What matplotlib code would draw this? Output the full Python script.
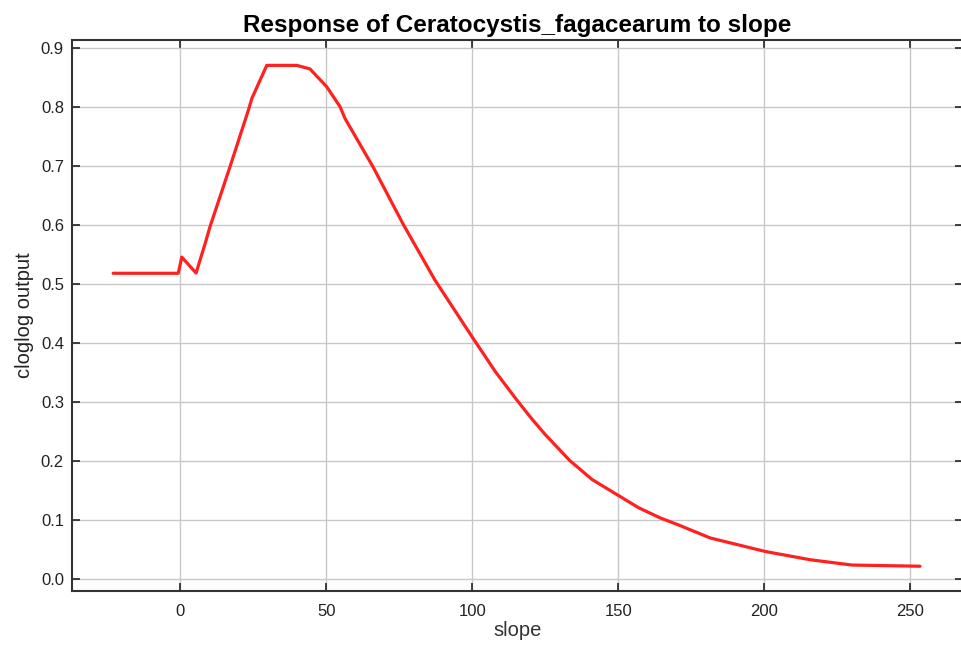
import matplotlib
matplotlib.use("Agg")
import matplotlib.pyplot as plt

slope = [-23, -0.7, 0.5, 5.4, 8.5, 10.2, 17, 23.3, 24.5, 29.6, 39.9, 44.4, 50.1,
         54.7, 56.4, 66.1, 76.4, 87.2, 100.3, 108, 115.2, 120, 125, 133.4, 141,
         150, 157, 164.3, 171.1, 181.4, 200.3, 215.7, 230, 253.3]
output = [0.5176, 0.5176, 0.545, 0.518, 0.568, 0.597, 0.698, 0.794, 0.814, 0.870,
          0.870, 0.864, 0.834, 0.800, 0.780, 0.697, 0.600, 0.506, 0.407, 0.350,
          0.303, 0.273, 0.244, 0.200, 0.168, 0.141, 0.120, 0.103, 0.090, 0.069,
          0.046, 0.032, 0.023, 0.021]
xticks = [0, 50, 100, 150, 200, 250]
yticks = [0.0, 0.1, 0.2, 0.3, 0.4, 0.5, 0.6, 0.7, 0.8, 0.9]

plt.rcParams['font.family'] = ['Liberation Sans', 'DejaVu Sans']

fig = plt.figure(figsize=(9.61, 6.55), dpi=100)
ax = fig.add_axes([0.0752, 0.0977, 0.9268, 0.8412])

ax.plot(slope, output, color='#ff2020', lw=2.3, solid_joinstyle='round',
        solid_capstyle='round', zorder=3)

ax.set_xlim(-37, 268)
ax.set_ylim(-0.021, 0.913)
ax.set_xticks(xticks)
ax.set_yticks(yticks)
ax.set_yticklabels([f"{v:.1f}" for v in yticks])
ax.grid(True, color='#c8c8c8', lw=1.0)
ax.set_axisbelow(True)

ax.tick_params(direction='in', length=6, width=1.2, colors='#222222',
               labelcolor='#222222', labelsize=12, top=True, right=True)
ax.tick_params(axis='x', pad=9)
ax.tick_params(axis='y', pad=6)
for s in ax.spines.values():
    s.set_color('#333333')
    s.set_linewidth(1.5)
ax.spines['right'].set_visible(False)

ax.set_xlabel('slope', fontsize=14.5, color='#333333', labelpad=2)
ax.set_ylabel('cloglog output', fontsize=14.5, color='#222222', labelpad=5)
ax.set_title('Response of Ceratocystis_fagacearum to slope', fontsize=17.5,
             fontweight='bold', pad=6)

fig.savefig('out.png', dpi=100)
